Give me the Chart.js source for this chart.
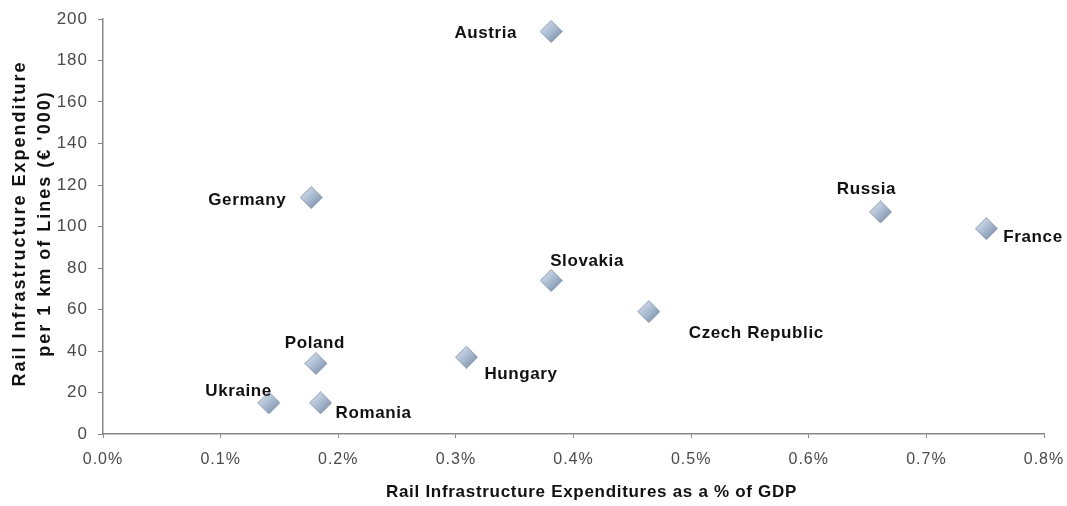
<!DOCTYPE html>
<html>
<head>
<meta charset="utf-8">
<title>Rail infrastructure expenditure</title>
<script src="https://cdn.jsdelivr.net/npm/chart.js@4.4.1/dist/chart.umd.min.js"></script>
<style>
  html, body { margin: 0; padding: 0; background: #fff; }
  #wrap { width: 1067px; height: 506px; position: relative; }
</style>
</head>
<body>
<div id="wrap"><canvas id="chart"></canvas></div>
<script>
// countries and their values: % of GDP vs € '000 per km of line
var countries = ["Austria", "Germany", "Russia", "France", "Slovakia", "Czech Republic", "Poland", "Hungary", "Ukraine", "Romania"];
var gdpShare = [0.381, 0.177, 0.661, 0.751, 0.381, 0.464, 0.181, 0.309, 0.141, 0.185];
var spendPerKm = [194, 114, 107, 99, 74, 59, 34, 37, 15, 15];
var xTicks = [0, 0.1, 0.2, 0.3, 0.4, 0.5, 0.6, 0.7, 0.8];

var xTitle = "Rail Infrastructure Expenditures as a % of GDP";
var yTitle = ["Rail Infrastructure Expenditure", "per 1 km of Lines (\u20ac '000)"];

// where each name sits relative to its marker (dx, dy, align)
var labelPlacement = [
    [-34, 2, "right"], [-25, 3, "right"], [-14, -23, "center"], [17, 9, "left"],
    [-1, -19, "left"], [40, 22, "left"], [-1, -20, "center"], [18, 17, "left"],
    [3, -12, "right"], [15, 10, "left"]
];

var FONT = "'Liberation Sans', Arial, sans-serif";

// shaded diamond used as the point style
function makeDiamond(size) {
    var c = document.createElement("canvas");
    c.width = size;
    c.height = size;
    var g = c.getContext("2d");
    var h = size / 2;
    var grad = g.createLinearGradient(0, 0, size, size);
    grad.addColorStop(0, "#e4ebf4");
    grad.addColorStop(0.5, "#a9bbd1");
    grad.addColorStop(1, "#6f829b");
    g.beginPath();
    g.moveTo(h, 0.5);
    g.lineTo(size - 0.5, h);
    g.lineTo(h, size - 0.5);
    g.lineTo(0.5, h);
    g.closePath();
    g.fillStyle = grad;
    g.fill();
    g.strokeStyle = "rgba(110,128,150,0.7)";
    g.lineWidth = 1;
    g.stroke();
    return c;
}

var points = gdpShare.map(function (v, i) {
    return { x: v, y: spendPerKm[i] };
});

// widen tick text a little
var tickSpacing = {
    id: "tickSpacing",
    beforeDraw: function (chart) {
        chart.ctx.letterSpacing = "1px";
    }
};

var pointLabels = {
    id: "pointLabels",
    afterDatasetsDraw: function (chart) {
        var ctx = chart.ctx;
        var meta = chart.getDatasetMeta(0);
        ctx.save();
        ctx.font = "bold 17px " + FONT;
        ctx.letterSpacing = "0.6px";
        ctx.fillStyle = "#111";
        ctx.textBaseline = "middle";
        meta.data.forEach(function (pt, i) {
            var p = labelPlacement[i];
            ctx.textAlign = p[2];
            ctx.fillText(countries[i], pt.x + p[0], pt.y + p[1]);
        });
        ctx.restore();
    }
};

// axis titles drawn by hand so the spacing can be set
var axisTitles = {
    id: "axisTitles",
    afterDraw: function (chart) {
        var ctx = chart.ctx;
        var area = chart.chartArea;
        ctx.save();
        ctx.fillStyle = "#111";
        ctx.textAlign = "center";
        ctx.textBaseline = "middle";

        ctx.font = "bold 17px " + FONT;
        ctx.letterSpacing = "0.7px";
        ctx.fillText(xTitle, (area.left + area.right) / 2 + 18, area.bottom + 58);

        ctx.font = "bold 18px " + FONT;
        ctx.letterSpacing = "2px";
        ctx.translate(0, (area.top + area.bottom) / 2 - 3);
        ctx.rotate(-Math.PI / 2);
        ctx.fillText(yTitle[0], 0, 20);
        ctx.fillText(yTitle[1], 0, 45);
        ctx.restore();
    }
};

var ctx = document.getElementById("chart").getContext("2d");
new Chart(ctx, {
    type: "scatter",
    data: {
        datasets: [{
            data: points,
            pointStyle: makeDiamond(23),
            pointRadius: 11,
            pointHoverRadius: 11
        }]
    },
    options: {
        responsive: true,
        maintainAspectRatio: false,
        animation: false,
        layout: { padding: { top: 19, right: 23, left: 0, bottom: 0 } },
        plugins: {
            legend: { display: false },
            tooltip: { enabled: false }
        },
        scales: {
            x: {
                type: "linear",
                min: 0,
                max: 0.8,
                afterBuildTicks: function (scale) {
                    scale.ticks = xTicks.map(function (v) { return { value: v }; });
                },
                afterFit: function (scale) {
                    scale.height = 72;
                    scale.paddingLeft = 0;
                    scale.paddingRight = 0;
                },
                grid: { drawOnChartArea: false, drawTicks: true, tickLength: 4, color: "#888" },
                border: { display: true, color: "#888", width: 1.5 },
                ticks: {
                    color: "#4a4a4a",
                    font: { family: FONT, size: 16 },
                    padding: 12,
                    maxRotation: 0,
                    callback: function (v) { return v.toFixed(1) + "%"; }
                }
            },
            y: {
                min: 0,
                max: 200,
                afterFit: function (scale) {
                    scale.width = 103;
                    scale.paddingTop = 0;
                    scale.paddingBottom = 0;
                },
                grid: { drawOnChartArea: false, drawTicks: true, tickLength: 5, color: "#888" },
                border: { display: true, color: "#888", width: 1.5 },
                ticks: {
                    stepSize: 20,
                    color: "#4a4a4a",
                    font: { family: FONT, size: 17 },
                    padding: 10
                }
            }
        }
    },
    plugins: [tickSpacing, pointLabels, axisTitles]
});
</script>
</body>
</html>
